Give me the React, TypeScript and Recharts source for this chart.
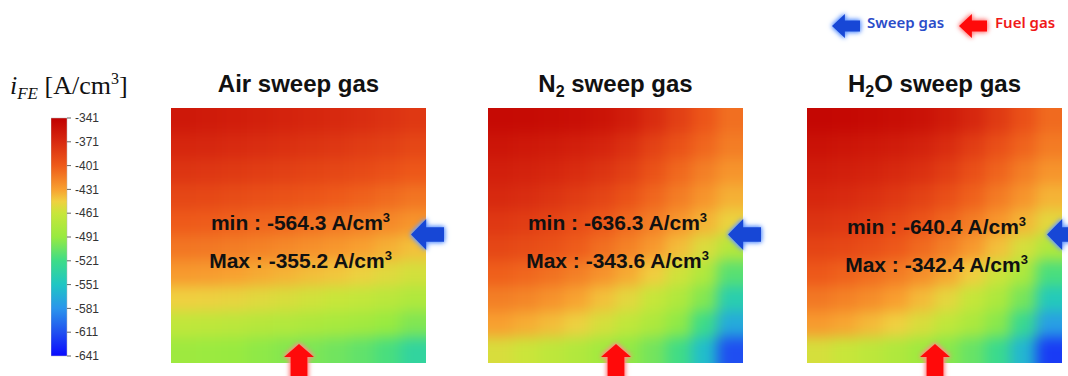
import React from 'react';
import { ScatterChart, Scatter, XAxis, YAxis, BarChart, Bar } from 'recharts';

// colour scale of the bar (A/cm3)
const colorStops = [-641, -611, -581, -551, -521, -491, -461, -446, -431, -401, -371, -341];
const colorHex = ['#0a0aff', '#2050f0', '#2a95ec', '#1fc6c4', '#3ddc88', '#98ea40', '#c8e63a', '#f0d040', '#f8a030', '#ee5a1a', '#d82a10', '#c00000'];
const colorbarTicks = [-641, -611, -581, -551, -521, -491, -461, -431, -401, -371, -341];

// current density maps, rows top -> bottom, cols left -> right
const airValues = [
  [-358, -360, -362, -364, -366, -368, -370, -373, -376, -380],
  [-368, -369, -371, -373, -375, -377, -379, -382, -385, -389],
  [-378, -379, -381, -383, -385, -387, -389, -391, -395, -399],
  [-389, -390, -392, -394, -396, -398, -401, -404, -408, -412],
  [-401, -402, -404, -406, -408, -411, -414, -417, -421, -426],
  [-413, -414, -416, -418, -421, -424, -427, -431, -436, -441],
  [-428, -429, -431, -434, -437, -440, -443, -447, -452, -457],
  [-446, -447, -449, -452, -455, -458, -461, -465, -470, -476],
  [-466, -467, -469, -472, -475, -478, -481, -485, -491, -499],
  [-487, -489, -491, -494, -497, -500, -504, -509, -517, -532],
];
const n2Values = [
  [-348, -349, -350, -352, -355, -362, -372, -385, -398, -410],
  [-356, -358, -360, -363, -367, -375, -386, -396, -406, -416],
  [-363, -365, -368, -372, -377, -385, -396, -407, -417, -426],
  [-370, -373, -377, -382, -388, -396, -406, -416, -426, -436],
  [-380, -383, -387, -393, -400, -408, -417, -427, -437, -448],
  [-389, -392, -396, -402, -410, -418, -428, -440, -454, -472],
  [-403, -406, -411, -417, -425, -434, -445, -458, -476, -512],
  [-417, -420, -425, -432, -441, -451, -462, -476, -498, -540],
  [-431, -435, -440, -447, -456, -466, -478, -494, -522, -568],
  [-455, -460, -467, -475, -484, -493, -503, -520, -556, -612],
];
const h2oValues = [
  [-346, -347, -349, -351, -354, -360, -369, -381, -395, -408],
  [-354, -356, -358, -361, -365, -372, -383, -394, -405, -415],
  [-361, -363, -366, -370, -375, -383, -394, -405, -416, -426],
  [-368, -371, -375, -380, -386, -394, -404, -415, -426, -437],
  [-377, -380, -384, -390, -397, -406, -416, -427, -438, -451],
  [-387, -390, -394, -400, -408, -417, -428, -441, -456, -476],
  [-400, -404, -409, -415, -423, -433, -445, -459, -479, -517],
  [-414, -418, -423, -430, -439, -450, -463, -478, -502, -546],
  [-429, -433, -439, -446, -455, -466, -479, -496, -526, -575],
  [-456, -461, -468, -476, -486, -496, -507, -524, -561, -620],
];

const panelTitles = ['Air', 'N2', 'H2O'];
const panelMin = ['-564.3', '-636.3', '-640.4'];
const panelMax = ['-355.2', '-343.6', '-342.4'];

const GRID = 10;
const PANEL = 255;
const PAD = 28;

const hexToRgb = (h: string) => [1, 3, 5].map((i) => parseInt(h.slice(i, i + 2), 16));

function valueColor(v: number) {
  if (v <= colorStops[0]) return colorHex[0];
  if (v >= colorStops[colorStops.length - 1]) return colorHex[colorHex.length - 1];
  let i = 0;
  while (v > colorStops[i + 1]) i++;
  const t = (v - colorStops[i]) / (colorStops[i + 1] - colorStops[i]);
  const a = hexToRgb(colorHex[i]);
  const b = hexToRgb(colorHex[i + 1]);
  const c = a.map((x, k) => Math.round(x + (b[k] - x) * t));
  return `rgb(${c[0]},${c[1]},${c[2]})`;
}

const Heatmap = ({ values }: { values: number[][] }) => {
  const data = values.flatMap((row, ri) => row.map((v, ci) => ({ col: ci + 0.5, row: ri + 0.5, v, ri, ci })));
  const cell = PANEL / GRID;
  const renderCell = (props: any) => {
    const { cx, cy, payload } = props;
    let x0 = cx - cell / 2 - 0.5;
    let x1 = cx + cell / 2 + 0.5;
    let y0 = cy - cell / 2 - 0.5;
    let y1 = cy + cell / 2 + 0.5;
    // stretch edge cells so the blur does not fade the borders
    if (payload.ci === 0) x0 -= PAD;
    if (payload.ci === GRID - 1) x1 += PAD;
    if (payload.ri === 0) y0 -= PAD;
    if (payload.ri === GRID - 1) y1 += PAD;
    return <rect x={x0} y={y0} width={x1 - x0} height={y1 - y0} fill={valueColor(payload.v)} />;
  };
  return (
    <div style={{ width: PANEL, height: PANEL, overflow: 'hidden', position: 'relative' }}>
      <div style={{ position: 'absolute', left: -PAD, top: -PAD, filter: 'blur(7px)' }}>
        <ScatterChart width={PANEL + 2 * PAD} height={PANEL + 2 * PAD} margin={{ top: PAD, right: PAD, bottom: PAD, left: PAD }}>
          <XAxis type="number" dataKey="col" domain={[0, GRID]} hide />
          <YAxis type="number" dataKey="row" domain={[0, GRID]} reversed hide />
          <Scatter data={data} shape={renderCell} isAnimationActive={false} />
        </ScatterChart>
      </div>
    </div>
  );
};

const colorbarData = [{ name: 'iFE', range: [colorStops[0], colorStops[colorStops.length - 1]] }];

const Colorbar = () => {
  const span = colorStops[colorStops.length - 1] - colorStops[0];
  return (
    <BarChart width={57} height={258} data={colorbarData} margin={{ top: 10, right: 0, bottom: 10, left: 0 }} barCategoryGap={0}>
      <defs>
        <linearGradient id="cbGrad" x1="0" y1="1" x2="0" y2="0">
          {colorStops.map((s, i) => (
            <stop key={s} offset={(s - colorStops[0]) / span} stopColor={colorHex[i]} />
          ))}
        </linearGradient>
      </defs>
      <XAxis dataKey="name" hide />
      <YAxis
        type="number"
        orientation="right"
        width={41}
        domain={[-641, -341]}
        ticks={colorbarTicks}
        interval={0}
        axisLine={false}
        tickSize={4}
        tickMargin={4}
        tickLine={{ stroke: '#666' }}
        tick={{ fontSize: 12, fill: '#333', fontFamily: 'Liberation Sans, Arial, sans-serif' }}
      />
      <Bar dataKey="range" fill="url(#cbGrad)" stroke="#bbb" strokeWidth={0.5} isAnimationActive={false} />
    </BarChart>
  );
};

const LeftArrow = ({ w, h, fill, glow }: { w: number; h: number; fill: string; glow: string }) => {
  const hx = w * 0.46;
  const b0 = h * 0.27;
  const b1 = h * 0.73;
  return (
    <svg width={w + 8} height={h + 8} style={{ overflow: 'visible', filter: `drop-shadow(0 0 2px ${glow}) drop-shadow(0 0 2px ${glow})` }}>
      <polygon points={`4,${4 + h / 2} ${4 + hx},4 ${4 + hx},${4 + b0} ${4 + w},${4 + b0} ${4 + w},${4 + b1} ${4 + hx},${4 + b1} ${4 + hx},${4 + h}`} fill={fill} />
    </svg>
  );
};

const UpArrow = ({ w, h, fill, glow }: { w: number; h: number; fill: string; glow: string }) => {
  const hy = 13;
  const b0 = w * 0.22;
  const b1 = w * 0.78;
  return (
    <svg width={w + 8} height={h + 8} style={{ overflow: 'visible', filter: `drop-shadow(0 0 2px ${glow}) drop-shadow(0 0 2px ${glow})` }}>
      <polygon points={`${4 + w / 2},4 ${4 + w},${4 + hy} ${4 + b1},${4 + hy} ${4 + b1},${4 + h} ${4 + b0},${4 + h} ${4 + b0},${4 + hy} 4,${4 + hy}`} fill={fill} />
    </svg>
  );
};

const Title = ({ name }: { name: string }) => {
  const sub = { fontSize: 16, verticalAlign: '-5px' } as React.CSSProperties;
  if (name === 'N2') return <span>N<span style={sub}>2</span> sweep gas</span>;
  if (name === 'H2O') return <span>H<span style={sub}>2</span>O sweep gas</span>;
  return <span>{name} sweep gas</span>;
};

const panelLeft = [171, 488, 807];
const textShift = [0, 0, 4];

export default function App() {
  const maps = [airValues, n2Values, h2oValues];
  const sans = 'Liberation Sans, Arial, sans-serif';
  const sup = { fontSize: 13, verticalAlign: '8px' } as React.CSSProperties;
  return (
    <div style={{ position: 'fixed', left: 0, top: 0, width: 1068, height: 376, overflow: 'hidden', background: '#fff' }}>
      {/* colour bar */}
      <div style={{ position: 'absolute', left: 10, top: 70, fontFamily: 'Liberation Serif, serif', fontSize: 26, color: '#111', whiteSpace: 'nowrap' }}>
        <i>i</i>
        <i style={{ fontSize: 17, verticalAlign: '-5px' }}>FE</i>
        <span> [A/cm</span>
        <span style={{ fontSize: 16, verticalAlign: '10px' }}>3</span>
        <span>]</span>
      </div>
      <div style={{ position: 'absolute', left: 51, top: 108 }}>
        <Colorbar />
      </div>

      {/* legend */}
      <div style={{ position: 'absolute', left: 828, top: 10 }}>
        <LeftArrow w={28} h={24} fill="#1747d6" glow="#6a9cff" />
      </div>
      <div style={{ position: 'absolute', left: 867, top: 12, fontFamily: 'Noto Sans, sans-serif', fontWeight: 600, fontSize: 15, color: '#2b4cc9' }}>Sweep gas</div>
      <div style={{ position: 'absolute', left: 955, top: 10 }}>
        <LeftArrow w={28} h={24} fill="#ff0a0a" glow="#ff8a8a" />
      </div>
      <div style={{ position: 'absolute', left: 995, top: 12, fontFamily: 'Noto Sans, sans-serif', fontWeight: 600, fontSize: 15, color: '#f01818' }}>Fuel gas</div>

      {maps.map((vals, i) => {
        const left = panelLeft[i];
        const cx = left + PANEL / 2;
        return (
          <React.Fragment key={panelTitles[i]}>
            <div style={{ position: 'absolute', left: cx - 150, width: 300, top: 70, textAlign: 'center', fontFamily: sans, fontWeight: 700, fontSize: 24, color: '#111', lineHeight: '28px' }}>
              <Title name={panelTitles[i]} />
            </div>
            <div style={{ position: 'absolute', left, top: 108 }}>
              <Heatmap values={vals} />
            </div>
            <div style={{ position: 'absolute', left: cx - 150 + 2, width: 300, top: 205 + textShift[i], textAlign: 'center', fontFamily: sans, fontWeight: 700, fontSize: 21, color: '#111', lineHeight: '26px', whiteSpace: 'nowrap' }}>
              min : {panelMin[i]} A/cm<span style={sup}>3</span>
            </div>
            <div style={{ position: 'absolute', left: cx - 150 + 2, width: 300, top: 243 + textShift[i], textAlign: 'center', fontFamily: sans, fontWeight: 700, fontSize: 21, color: '#111', lineHeight: '26px', whiteSpace: 'nowrap' }}>
              Max : {panelMax[i]} A/cm<span style={sup}>3</span>
            </div>
            <div style={{ position: 'absolute', left: left + PANEL - 19, top: 215 }}>
              <LeftArrow w={33} h={31} fill="#1747d6" glow="#6a9cff" />
            </div>
            <div style={{ position: 'absolute', left: cx - 19, top: 340 }}>
              <UpArrow w={30} h={40} fill="#ff0a0a" glow="#ff8a8a" />
            </div>
          </React.Fragment>
        );
      })}
    </div>
  );
}
